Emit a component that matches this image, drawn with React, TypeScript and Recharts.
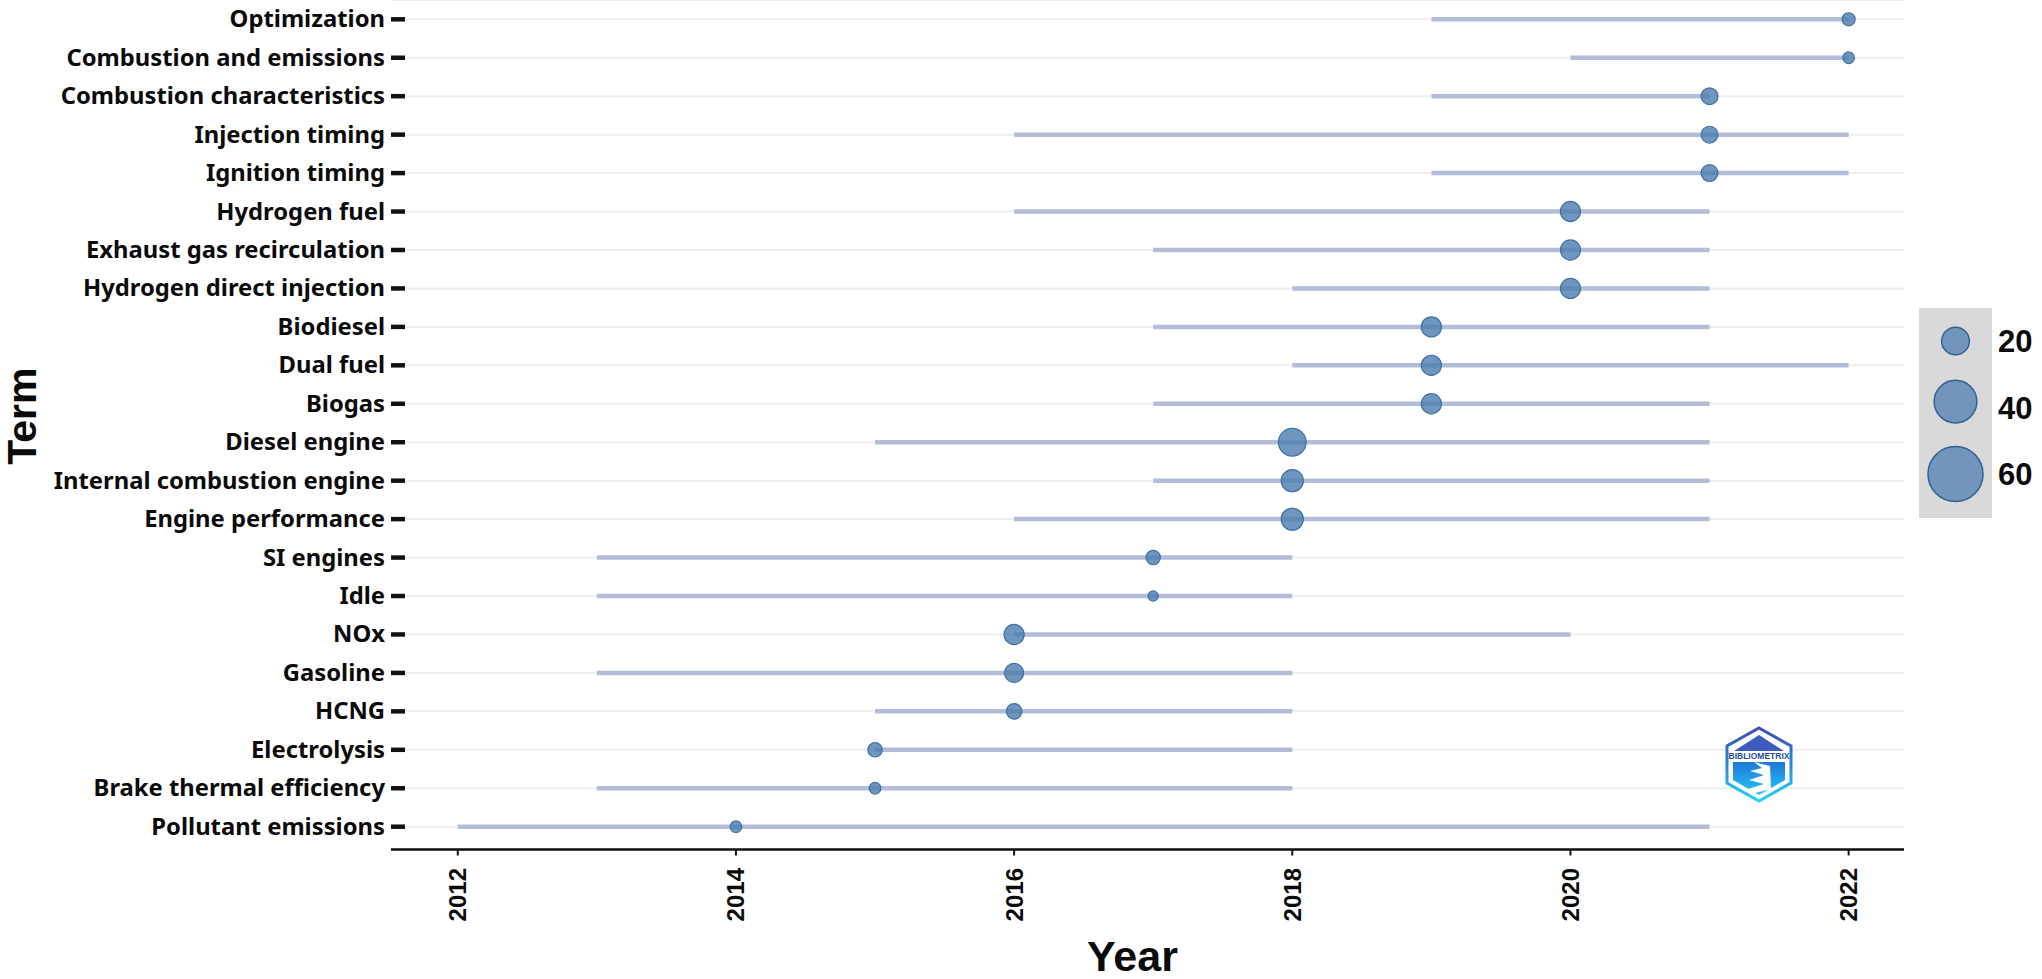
import React from 'react';
import { ScatterChart, Scatter, XAxis, YAxis, CartesianGrid, Label } from 'recharts';

const terms = ['Optimization','Combustion and emissions','Combustion characteristics','Injection timing','Ignition timing','Hydrogen fuel','Exhaust gas recirculation','Hydrogen direct injection','Biodiesel','Dual fuel','Biogas','Diesel engine','Internal combustion engine','Engine performance','SI engines','Idle','NOx','Gasoline','HCNG','Electrolysis','Brake thermal efficiency','Pollutant emissions'];
const firstYears = [2019,2020,2019,2016,2019,2016,2017,2018,2017,2018,2017,2015,2017,2016,2013,2013,2016,2013,2015,2015,2013,2012];
const lastYears = [2022,2022,2021,2022,2022,2021,2021,2021,2021,2022,2021,2021,2021,2021,2018,2018,2020,2018,2018,2018,2018,2021];
const peakYears = [2022,2022,2021,2021,2021,2020,2020,2020,2019,2019,2019,2018,2018,2018,2017,2017,2016,2016,2016,2015,2015,2014];
const frequencies = [6,5,9,9,9,12,12,12,12,12,12,20,14,14,7,4,12,11,8,7,5,5];
const yearTicks = [2012,2014,2016,2018,2020,2022];
const legendValues = [20,40,60];

const rowOf = (i: number) => terms.length - 1 - i;
const segments = terms.map((t, i) => [{ x: firstYears[i], y: rowOf(i) }, { x: lastYears[i], y: rowOf(i) }]);
const peaks = terms.map((t, i) => ({ x: peakYears[i], y: rowOf(i), z: frequencies[i] }));
const legendDots = legendValues.map((z) => ({ x: 0.5, y: z, z }));

const BLUE = '#4a7cae';
const EDGE = '#3f72a4';
const radius = (z: number) => 13.85 * Math.pow(z / 20, 0.625);

const Dot = (p: any) => (
  <circle cx={p.cx} cy={p.cy} r={radius(p.payload.z)} fill={BLUE} fillOpacity={0.8} stroke={EDGE} strokeWidth={1.2} />
);
const LegendDot = (p: any) => (
  <circle cx={p.cx} cy={p.cy + (p.payload.z === 40 ? -6 : 0)} r={radius(p.payload.z)} fill="#4a7cae" fillOpacity={0.72} stroke="#2f6391" strokeWidth={1.5} />
);
const NoDot = () => null;

const TermTick = (p: any) => {
  const { x, y, payload } = p;
  return (
    <g>
      <line x1={x} x2={x + 14} y1={y} y2={y} stroke="#111" strokeWidth={4.5} />
      <text x={x - 6} y={y - 1} textAnchor="end" dominantBaseline="central" fontFamily="'Noto Sans'" fontWeight={700} fontSize={23.8} fill="#0a0a0a">
        {terms[terms.length - 1 - payload.value]}
      </text>
    </g>
  );
};
const YearTick = (p: any) => {
  const { x, y, payload } = p;
  const ty = 868;
  return (
    <text x={x} y={ty} transform={`rotate(-90 ${x} ${ty})`} textAnchor="end" dominantBaseline="central" fontFamily="'Liberation Sans'" fontWeight={700} fontSize={24} fill="#0a0a0a">
      {payload.value}
    </text>
  );
};

const Logo = () => (
  <svg width={70} height={78} viewBox="0 0 70 78" style={{ position: 'absolute', left: 1724, top: 725 }}>
    <defs>
      <linearGradient id="hex" x1="0" y1="0" x2="0" y2="1">
        <stop offset="0" stopColor="#3f4fb0" />
        <stop offset="0.5" stopColor="#2a86e0" />
        <stop offset="1" stopColor="#22d4f8" />
      </linearGradient>
      <linearGradient id="body" x1="0" y1="0" x2="0" y2="1">
        <stop offset="0" stopColor="#1f78dc" />
        <stop offset="1" stopColor="#25c8f5" />
      </linearGradient>
    </defs>
    <polygon points="35,3 67,21 67,58 35,76 3,58 3,21" fill="#fff" stroke="url(#hex)" strokeWidth={3} />
    <polygon points="35,10 60,26 10,26" fill="#3c5cc0" />
    <polygon points="9,37 61,37 61,55 35,70 9,55" fill="url(#body)" />
    <polygon points="30,37 46,41 47,64 27,69 24,64 40,59 25,55 40,50 26,46 38,43" fill="#fff" />
    <text x={35} y={32} textAnchor="middle" dominantBaseline="middle" fontFamily="'Liberation Sans'" fontWeight={700} fontSize={8.5} fill="#24509f">BIBLIOMETRIX</text>
  </svg>
);

export default function App() {
  return (
    <div style={{ position: 'absolute', left: 0, top: 0, width: 2042, height: 979, background: '#fff', overflow: 'hidden' }}>
      <ScatterChart width={2042} height={979} margin={{ top: 0, right: 138, bottom: 0, left: 0 }}>
        <CartesianGrid horizontal vertical={false} stroke="#eeeeee" strokeWidth={2} />
        <XAxis type="number" dataKey="x" domain={[2011.52, 2022.398]} ticks={yearTicks} height={129.5} tick={<YearTick />} tickLine={{ stroke: '#111', strokeWidth: 2 }} tickSize={6} axisLine={{ stroke: '#111', strokeWidth: 2.5 }} interval={0} allowDataOverflow>
          <Label value="Year" position="insideBottom" offset={0} dx={-15} dy={-8} fontFamily="'Liberation Sans'" fontWeight={700} fontSize={43} fill="#0a0a0a" />
        </XAxis>
        <YAxis type="number" dataKey="y" domain={[-0.593, 21.502]} ticks={terms.map((t, i) => i)} width={391} tick={<TermTick />} tickLine={false} tickSize={0} tickMargin={0} axisLine={false} interval={0} allowDataOverflow>
          <Label value="Term" angle={-90} position="insideLeft" offset={0} dx={21} dy={40} fontFamily="'Liberation Sans'" fontWeight={700} fontSize={41} fill="#0a0a0a" />
        </YAxis>
        {segments.map((s, i) => (
          <Scatter key={terms[i]} data={s} line={{ stroke: '#b3bcd8', strokeWidth: 4.5 }} lineType="joint" shape={<NoDot />} isAnimationActive={false} />
        ))}
        <Scatter data={peaks} shape={<Dot />} isAnimationActive={false} />
      </ScatterChart>
      <div style={{ position: 'absolute', left: 1919, top: 308, width: 73, height: 210, background: '#d9d9d9' }} />
      <div style={{ position: 'absolute', left: 1919, top: 308 }}>
        <ScatterChart width={123} height={210} margin={{ top: 0, right: 0, bottom: 0, left: 0 }}>
          <XAxis type="number" dataKey="x" domain={[0, 1]} hide />
          <YAxis type="number" dataKey="y" orientation="right" reversed domain={[10.08, 73.2]} ticks={legendValues} width={50} tickLine={false} axisLine={false} tickSize={0} tickMargin={6} interval={0} tick={{ fontFamily: "'Liberation Sans'", fontWeight: 700, fontSize: 31, fill: '#0a0a0a' }} allowDataOverflow />
          <Scatter data={legendDots} shape={<LegendDot />} isAnimationActive={false} />
        </ScatterChart>
      </div>
      <Logo />
    </div>
  );
}
